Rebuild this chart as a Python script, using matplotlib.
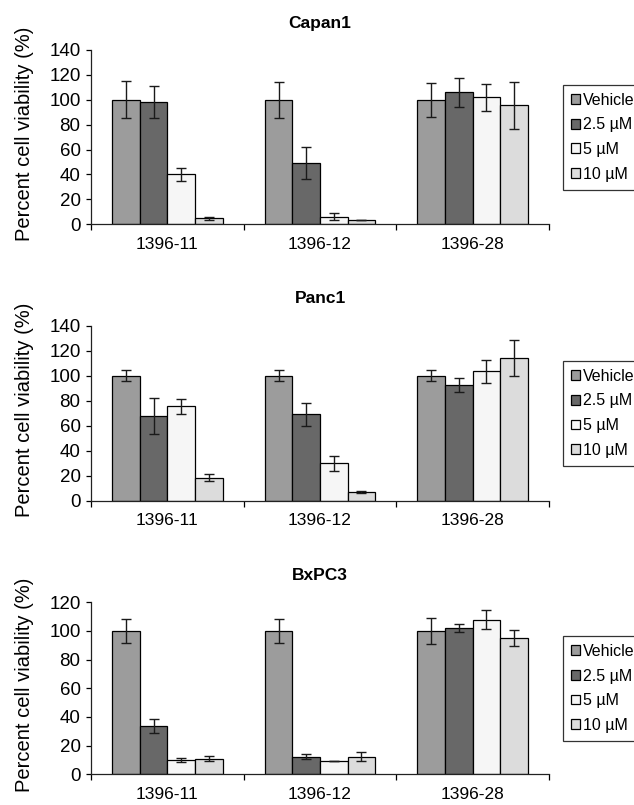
import matplotlib
matplotlib.use("Agg")
import matplotlib.pyplot as plt
import numpy as np
from matplotlib.ticker import FixedLocator, NullFormatter, FixedFormatter

plt.rcParams['font.family'] = ['Liberation Sans', 'DejaVu Sans']

categories = ["1396-11", "1396-12", "1396-28"]
series_names = ["Vehicle", "2.5 µM", "5 µM", "10 µM"]
series_colors = ["#9c9c9c", "#686868", "#f6f6f6", "#dcdcdc"]

capan1_values = [[100, 100, 100], [98, 49, 106], [40, 6, 102], [4.8, 3.2, 95.5]]
capan1_errors = [[15, 14.5, 13.5], [13, 13, 11.5], [5.2, 2.8, 11], [1, 0, 19]]

panc1_values = [[100, 100, 100], [68, 69, 92.5], [75.5, 30, 103.5], [18.5, 7, 114]]
panc1_errors = [[4.5, 4.5, 4.5], [14.5, 9.5, 5.5], [6, 6, 9.3], [3, 1, 14.5]]

bxpc3_values = [[100, 100, 100], [33.5, 12.3, 102], [10, 9, 108], [11, 12.3, 95]]
bxpc3_errors = [[8.5, 8.5, 9], [5, 1.7, 3], [1.2, 0, 6.5], [1.6, 3.2, 5.5]]

panels = [
    ("Capan1", capan1_values, capan1_errors, 140),
    ("Panc1", panc1_values, panc1_errors, 140),
    ("BxPC3", bxpc3_values, bxpc3_errors, 120),
]

W, H = 634, 805
fig = plt.figure(figsize=(W / 100, H / 100), dpi=100)

axes_px = [(50, 224.3), (325.7, 500.7), (602.3, 774.3)]
left_px, right_px = 91, 549

bar_w = 0.181
x = np.arange(len(categories))

for (title, vals, errs, ymax), (top, bot) in zip(panels, axes_px):
    ax = fig.add_axes([left_px / W, 1 - bot / H, (right_px - left_px) / W, (bot - top) / H])
    for i, (name, color) in enumerate(zip(series_names, series_colors)):
        offs = (i - 1.5) * bar_w
        ax.bar(x + offs, vals[i], bar_w, color=color, edgecolor="black",
               linewidth=0.9, label=name, zorder=2)
        ax.errorbar(x + offs, vals[i], yerr=errs[i], fmt="none", ecolor="#1a1a1a",
                    elinewidth=1.0, capsize=3.5, capthick=1.0, zorder=3)
    ax.set_xlim(-0.5, 2.5)
    ax.set_ylim(0, ymax)
    ax.set_yticks(np.arange(0, ymax + 1, 20))
    ax.tick_params(axis="y", direction="out", length=3.5, width=0.9, labelsize=13.5, pad=4)
    ax.xaxis.set_major_locator(FixedLocator([-0.5, 0.5, 1.5, 2.5]))
    ax.xaxis.set_major_formatter(NullFormatter())
    ax.xaxis.set_minor_locator(FixedLocator(x))
    ax.xaxis.set_minor_formatter(FixedFormatter(categories))
    ax.tick_params(axis="x", which="major", direction="out", length=4, width=0.9)
    ax.tick_params(axis="x", which="minor", length=0, labelsize=12.5, pad=9)
    for s in ["top", "right"]:
        ax.spines[s].set_visible(False)
    for s in ["left", "bottom"]:
        ax.spines[s].set_linewidth(0.9)
        ax.spines[s].set_color("#222222")
    ax.set_title(title, fontsize=12.5, fontweight="bold", pad=16)
    ax.set_ylabel("Percent cell viability (%)", fontsize=14.5)
    ax.yaxis.set_label_coords(-0.125, 0.52)
    leg = ax.legend(loc="center left", bbox_to_anchor=(1.031, 0.5), frameon=True,
                    fancybox=False, edgecolor="black", fontsize=11.5,
                    handlelength=0.55, handleheight=0.55, handletextpad=0.2,
                    borderpad=0.5, labelspacing=0.6, borderaxespad=0)
    leg.get_frame().set_linewidth(0.9)

fig.savefig("out.png", dpi=100)
